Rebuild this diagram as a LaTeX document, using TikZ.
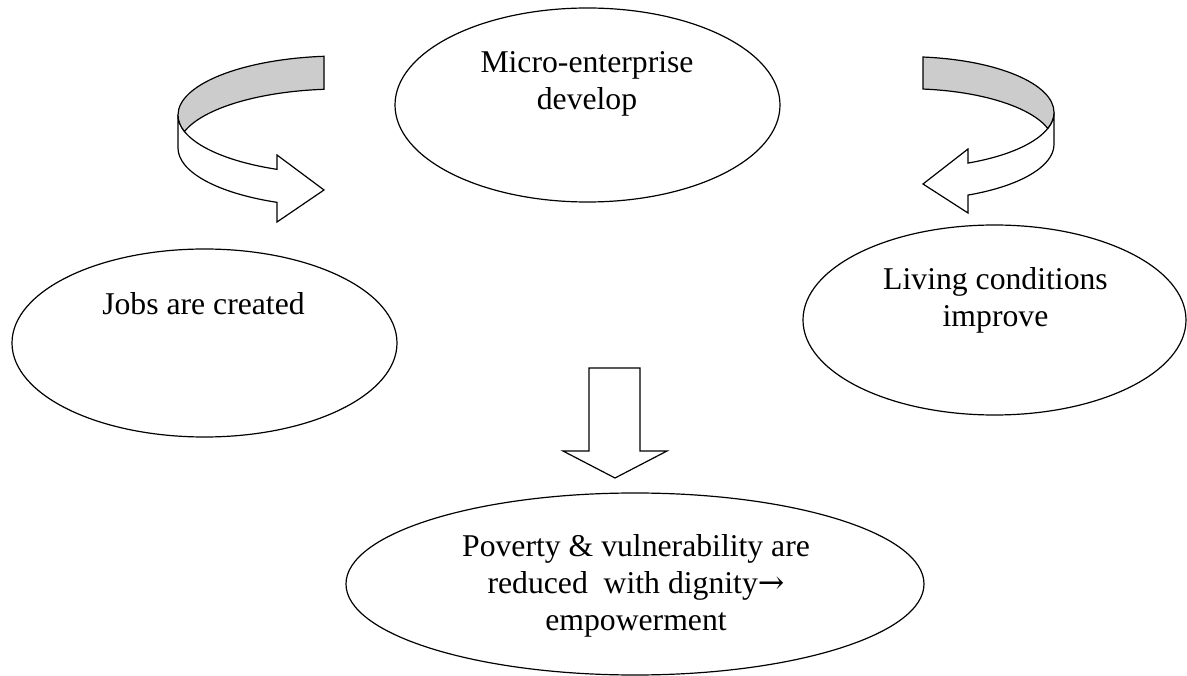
\documentclass[tikz,border=0pt]{standalone}
\usepackage{fontspec}
\setmainfont{Liberation Serif}
\newfontfamily\arrowfont{DejaVu Serif}
\usetikzlibrary{shapes.geometric}
\begin{document}
\begin{tikzpicture}[x=1pt, y=-1pt, line width=1.2pt, line join=miter,
  bubble/.style={draw, ellipse, inner sep=0pt},
  % multi-line texts are anchored at the baseline of their last line
  bubbletext/.style={font=\fontsize{31.7}{37}\selectfont, align=center, inner sep=0pt, anchor=base},
  ribbonback/.style={draw, fill=black!20},
  ribbonfront/.style={draw, fill=white},
  blockarrow/.style={draw, fill=white}]
\useasboundingbox (0,0) rectangle (1187,676);

% the four stages
\node[bubble, minimum width=385pt, minimum height=194pt] (micro) at (587.5,105) {};
\node[bubble, minimum width=385pt, minimum height=188pt] (jobs) at (204.5,343) {};
\node[bubble, minimum width=383pt, minimum height=190pt] (living) at (994.5,320) {};
\node[bubble, minimum width=578pt, minimum height=182pt] (poverty) at (635,584) {};

\node[bubbletext] (microtext) at (587,110) {Micro-enterprise\\develop};
\node[bubbletext] (jobstext) at (203.5,315) {Jobs are created};
\node[bubbletext] (livingtext) at (995.5,327) {Living conditions\\improve};
\node[bubbletext] (povertytext) at (636,630)
  {Poverty \& vulnerability are\\reduced\ \ with dignity{\arrowfont →}\\empowerment};

% left ribbon arrow: front face, then the shaded back of the band
\draw[ribbonfront] (178,115)
  arc[start angle=180, end angle=112.89, x radius=162, y radius=59]
  -- (277,155) -- (324,190) -- (277,222) -- (277,202.35)
  arc[start angle=112.89, end angle=180, x radius=162, y radius=59] -- cycle;
\draw[ribbonback] (324,56.3)
  arc[start angle=264.33, end angle=180, x radius=162, y radius=59]
  arc[start angle=180, end angle=163.76, x radius=162, y radius=59]
  arc[start angle=196.24, end angle=264.33, x radius=162, y radius=59] -- cycle;

% right ribbon arrow
\draw[ribbonfront] (1054,112.4)
  arc[start angle=0, end angle=65.48, x radius=147, y radius=55.7]
  -- (968,149) -- (923,184) -- (968,213) -- (968,195.08)
  arc[start angle=65.48, end angle=0, x radius=147, y radius=55.7] -- cycle;
\draw[ribbonback] (923,57.03)
  arc[start angle=-83.75, end angle=0, x radius=147, y radius=55.7]
  arc[start angle=0, end angle=16.7, x radius=147, y radius=55.7]
  arc[start angle=-16.7, end angle=-83.75, x radius=147, y radius=55.7] -- cycle;

% downward block arrow towards the outcome
\coordinate (dnL) at (589,368);
\coordinate (dnR) at (640,368);
\coordinate (dnTip) at (615,478);
\draw[blockarrow] (dnL) -- (dnR) -- (640,451) -- (667,451) -- (dnTip)
  -- (563,451) -- (589,451) -- cycle;
\end{tikzpicture}
\end{document}
